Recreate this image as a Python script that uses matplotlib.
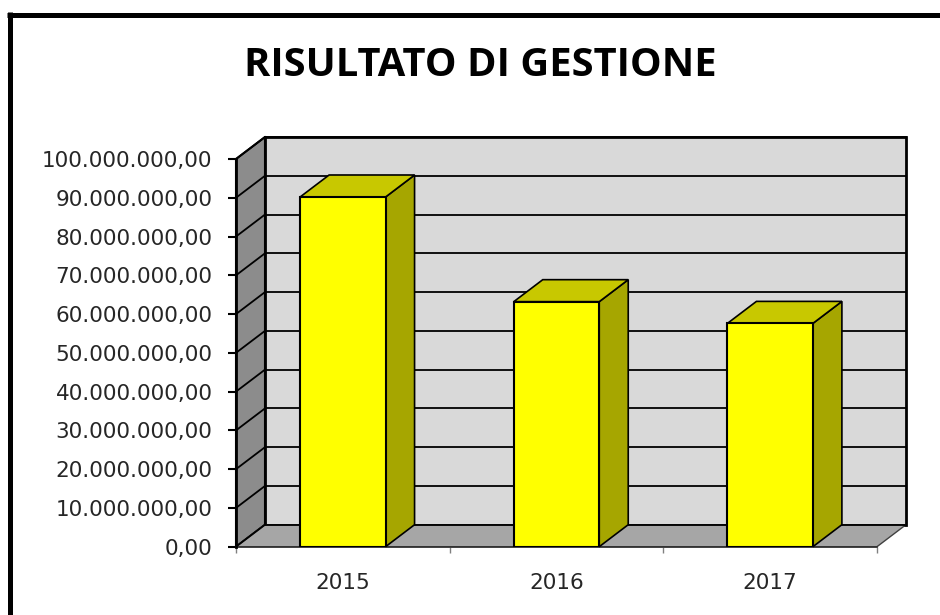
import matplotlib
matplotlib.use('Agg')
import matplotlib.pyplot as plt
from matplotlib.patches import Polygon
from matplotlib.lines import Line2D
from matplotlib.transforms import IdentityTransform
from matplotlib.ticker import FuncFormatter, MultipleLocator, FixedLocator

# dati
anni = ['2015', '2016', '2017']
risultato = [90_200_000, 63_200_000, 57_600_000]
y_max = 100_000_000
y_step = 10_000_000

# profondita' dell'effetto 3D in pixel
DX, DY = 29, 22

fig = plt.figure(figsize=(9.4, 6.15), dpi=100)
ax = fig.add_axes([236 / 940, 68.3 / 615, 641 / 940, 387.7 / 615])
n = len(anni)
ax.set_xlim(0, n)
ax.set_ylim(0, y_max)
ax.patch.set_visible(False)
ident = IdentityTransform()


def P(x, y, back=False):
    px, py = ax.transData.transform((x, y))
    if back:
        px += DX
        py += DY
    return (px, py)


def poly(pts, fc, ec='black', lw=1.2, z=1):
    ax.add_patch(Polygon(pts, closed=True, transform=ident, facecolor=fc,
                         edgecolor=ec, lw=lw, clip_on=False, zorder=z))


# pareti e pavimento
poly([P(0, 0, True), P(n, 0, True), P(n, y_max, True), P(0, y_max, True)],
     '#d9d9d9', lw=2, z=0)
poly([P(0, 0), P(0, y_max), P(0, y_max, True), P(0, 0, True)],
     '#8c8c8c', lw=1.5, z=0.2)
poly([P(0, 0), P(n, 0), P(n, 0, True), P(0, 0, True)],
     '#a6a6a6', ec='#404040', lw=1, z=0.2)

# griglia
for v in range(0, y_max + 1, y_step):
    a, b = P(0, v, True), P(n, v, True)
    ax.add_line(Line2D([a[0], b[0]], [a[1], b[1]], transform=ident,
                       color='black', lw=1.3, clip_on=False, zorder=0.5))
    c = P(0, v)
    ax.add_line(Line2D([c[0], a[0]], [c[1], a[1]], transform=ident,
                       color='black', lw=1.3, clip_on=False, zorder=0.5))

# colonne
w = 0.4
for i, v in enumerate(risultato):
    x0, x1 = i + 0.5 - w / 2, i + 0.5 + w / 2
    poly([P(x1, 0), P(x1, v), P(x1, v, True), P(x1, 0, True)], '#a6a600', z=3)
    poly([P(x0, v), P(x1, v), P(x1, v, True), P(x0, v, True)], '#c8c800', z=3)
ax.bar([i + 0.5 for i in range(n)], risultato, width=w, color='#ffff00',
       edgecolor='black', lw=1.5, zorder=4)

# assi
for s in ['top', 'right']:
    ax.spines[s].set_visible(False)
ax.spines['left'].set_linewidth(2)
ax.spines['left'].set_zorder(5)
ax.spines['bottom'].set_color('#303030')
ax.spines['bottom'].set_linewidth(1.2)

ax.yaxis.set_major_locator(MultipleLocator(y_step))
ax.yaxis.set_major_formatter(FuncFormatter(
    lambda v, p: f"{v:,.2f}".replace(',', 'X').replace('.', ',').replace('X', '.')))
ax.tick_params(axis='y', direction='out', length=5.8, width=1.5, color='black',
               labelsize=15.5, labelcolor='#262626', pad=11)

ax.xaxis.set_major_locator(FixedLocator([i + 0.5 for i in range(n)]))
ax.set_xticklabels(anni)
ax.xaxis.set_minor_locator(FixedLocator(list(range(n + 1))))
ax.tick_params(axis='x', which='major', length=0, labelsize=15.5,
               labelcolor='#262626', pad=19)
ax.tick_params(axis='x', which='minor', length=4.3, width=1, color='#808080')

fig.text(480 / 940, 1 - 66 / 615, 'RISULTATO DI GESTIONE', ha='center',
         va='center', fontfamily='Open Sans', fontweight='bold', fontsize=28.7,
         color='black')

# cornice
fig.add_artist(Line2D([7 / 940, 1], [1 - 14.5 / 615] * 2, color='black', lw=3.6,
                      solid_capstyle='butt'))
fig.add_artist(Line2D([9.75 / 940] * 2, [0, 1 - 12 / 615], color='black', lw=3.6,
                      solid_capstyle='butt'))

fig.savefig('out.png', dpi=100)
